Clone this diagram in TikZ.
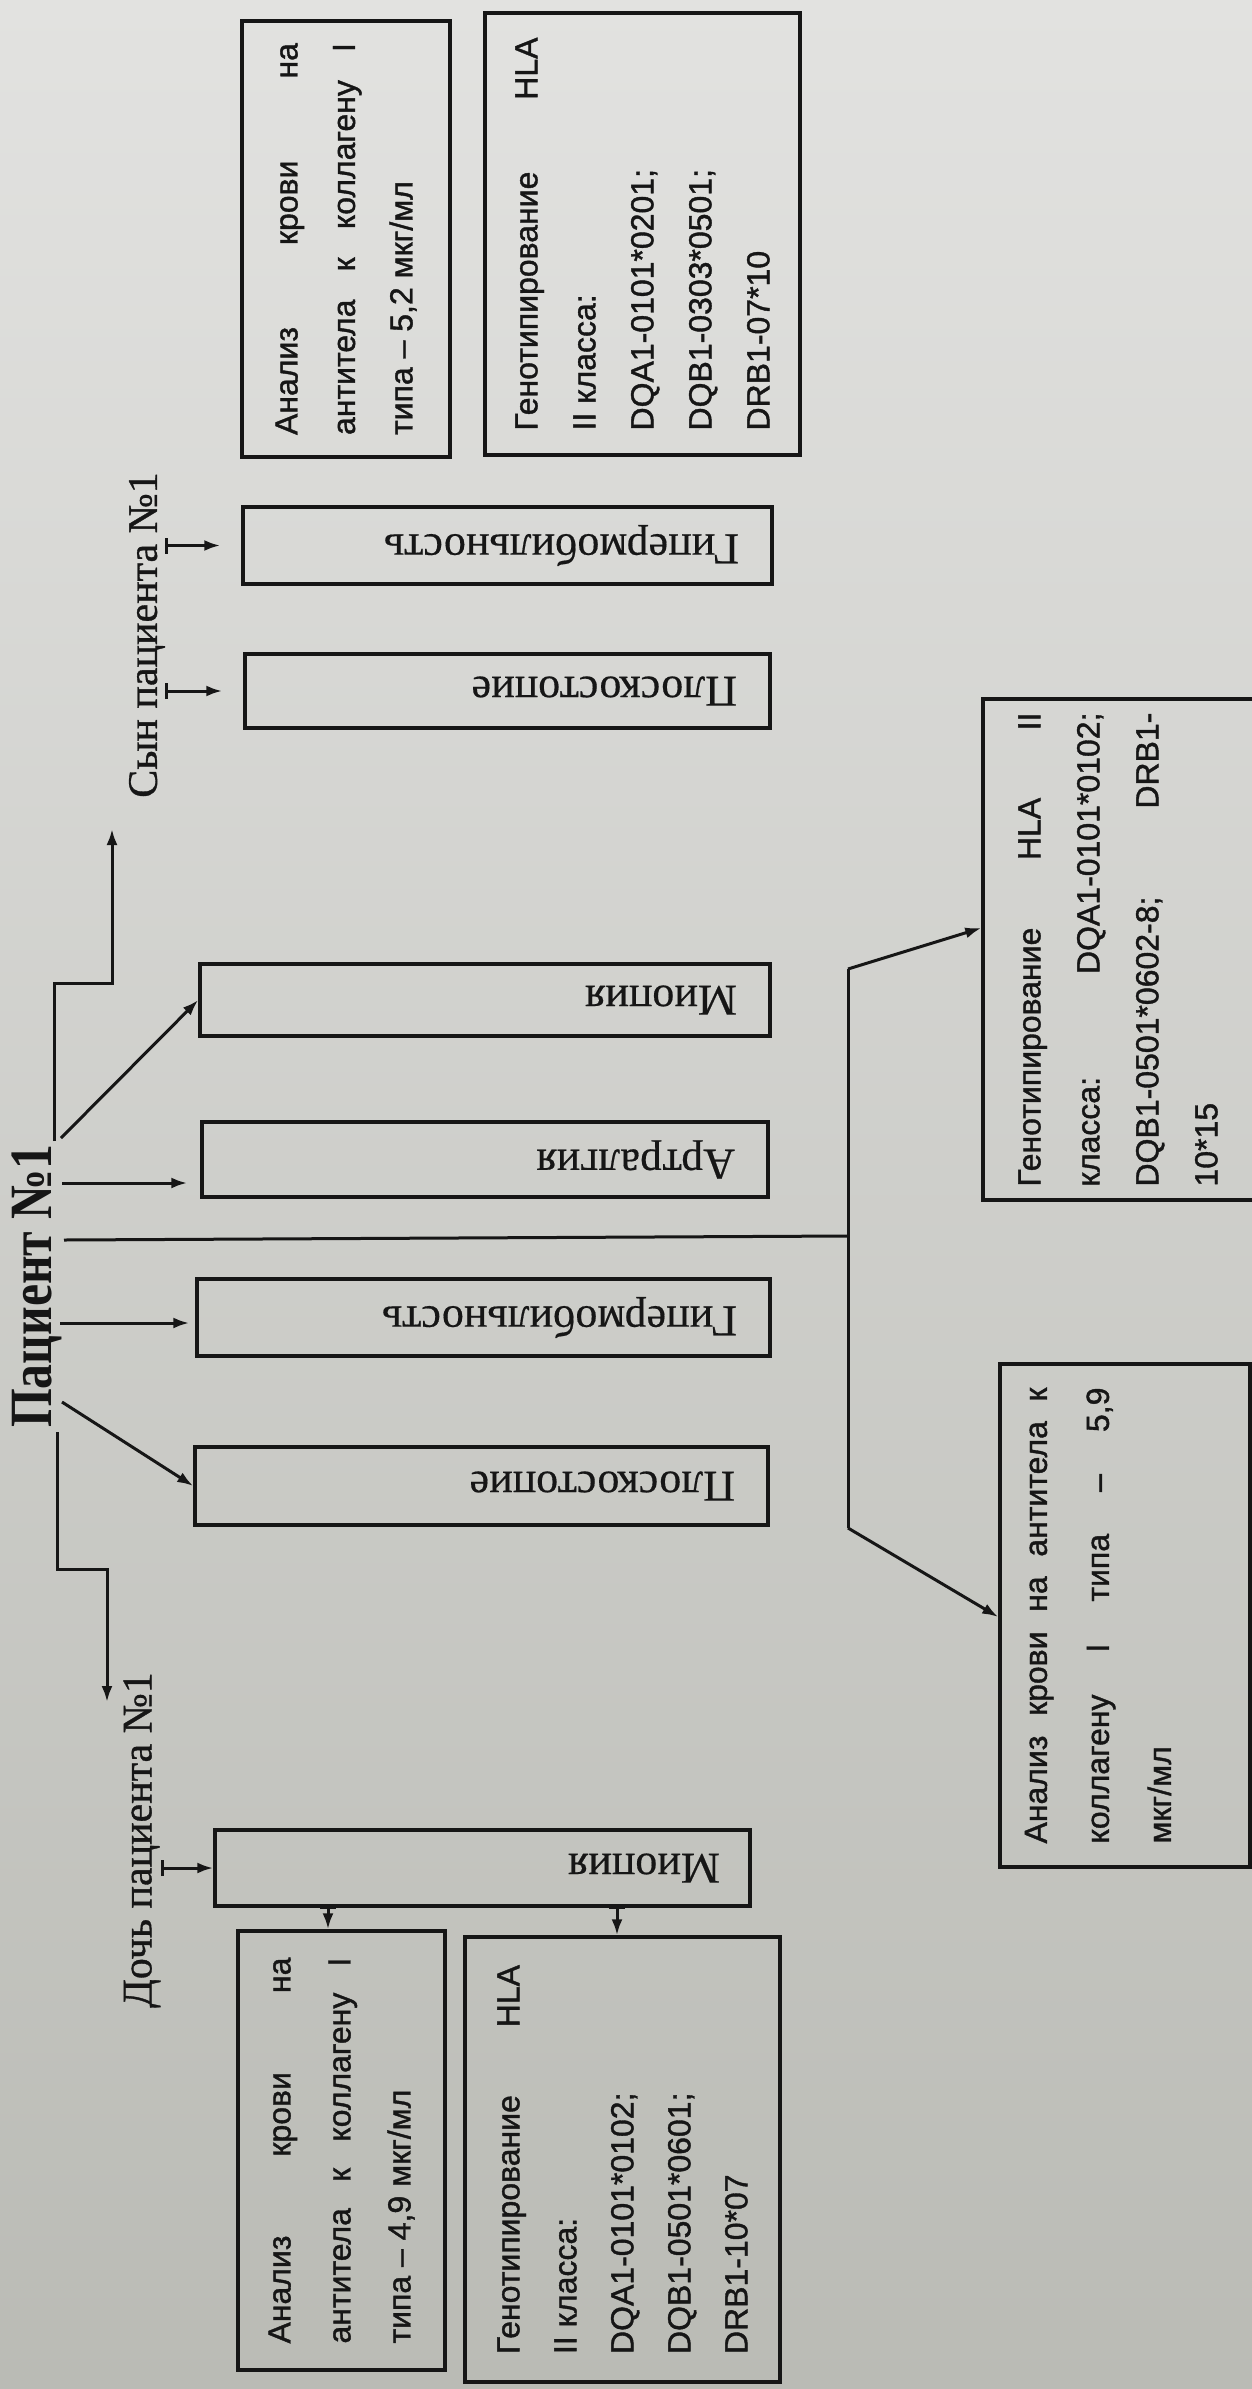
\documentclass[tikz,border=0pt]{standalone}
\usepackage{fontspec}
\usepackage{graphicx}
\setmainfont{Liberation Serif}
\newfontfamily\boxfont[FakeBold=1.2]{Liberation Sans}
\newfontfamily\labfont[FakeBold=0.8]{Liberation Serif}
\newfontfamily\symfont[FakeBold=0.4]{Liberation Serif}
\newfontfamily\titlefont[FakeStretch=0.83]{Liberation Serif}
\usetikzlibrary{arrows.meta,calc}
\definecolor{ink}{RGB}{22,22,22}
\newcommand\JL[1]{\makebox[\linewidth][s]{#1}}
\newcommand\rtext[3]{\rotatebox{90}{\parbox{#1}{\boxfont\fontsize{32}{#2}\selectfont #3}}}
\newcommand\symtext[3]{\makebox[#1][r]{\rotatebox{180}{#3}\hspace*{#2}}}
\begin{document}
\begin{tikzpicture}[x=1pt,y=-1pt,
  box/.style={draw=ink, line width=3.5pt, inner sep=0pt, rectangle},
  sym/.style={box, text=ink, font=\symfont\fontsize{44}{44}\selectfont},
  conn/.style={draw=ink, line width=3pt},
  arr/.style={conn, -{Latex[length=16pt,width=11pt]}},
  barr/.style={conn, {Bar[width=16pt]}-{Latex[length=16pt,width=11pt]}},
  lab/.style={rotate=90, inner sep=0pt, text=ink, font=\labfont\fontsize{42}{42}\selectfont}]
\shade[top color={rgb,255:red,226;green,226;blue,224}, bottom color={rgb,255:red,186;green,187;blue,181}] (0,0) rectangle (1252,2389);
\useasboundingbox (0,0) rectangle (1252,2389);

% labels
\node[rotate=90, inner sep=0pt, text=ink, font=\titlefont\bfseries\fontsize{60}{60}\selectfont] (title) at (37,1286) {Пациент №1};
\node[lab] (sonlab) at (147,635) {Сын пациента №1};
\node[lab] (dlab) at (142,1840) {Дочь пациента №1};

% son boxes
\node[box, text=ink, minimum width=208pt, minimum height=436pt] (a52) at (346,239)
  {\rtext{392pt}{57.5}{\JL{Анализ крови на}\\\JL{антитела к коллагену I}\\типа – 5,2 мкг/мл}};
\node[box, text=ink, minimum width=315pt, minimum height=442pt] (hs) at (642.5,234)
  {\rtext{393pt}{58}{\JL{Генотипирование HLA}\\II класса:\\DQA1-0101*0201;\\DQB1-0303*0501;\\DRB1-07*10}};
\node[sym, minimum width=529pt, minimum height=77pt] (gs) at (507.5,545.5) {\symtext{529pt}{33pt}{Гипермобильность}};
\node[sym, minimum width=525pt, minimum height=74pt] (ps) at (507.5,691) {\symtext{525pt}{33pt}{Плоскостопие}};

% patient symptom boxes
\node[sym, minimum width=570pt, minimum height=72pt] (mio) at (485,1000) {\symtext{570pt}{33pt}{Миопия}};
\node[sym, minimum width=566pt, minimum height=75pt] (art) at (485,1159.5) {\symtext{566pt}{33pt}{Артралгия}};
\node[sym, minimum width=573pt, minimum height=77pt] (gp) at (483.5,1317.5) {\symtext{573pt}{33pt}{Гипермобильность}};
\node[sym, minimum width=573pt, minimum height=78pt] (pp) at (481.5,1486) {\symtext{573pt}{33pt}{Плоскостопие}};

% patient analysis boxes
\node[box, text=ink, minimum width=292pt, minimum height=501pt] (hp) at (1129,949.5)
  {\rtext{474pt}{59}{\JL{Генотипирование HLA II}\\\JL{класса: DQA1-0101*0102;}\\\JL{DQB1-0501*0602-8; DRB1-}\\10*15}\hspace*{22pt}};
\node[box, text=ink, minimum width=250pt, minimum height=503pt] (a59) at (1125,1615.5)
  {\rtext{456pt}{62}{\JL{Анализ крови на антитела к}\\\JL{коллагену I типа – 5,9}\\мкг/мл}\hspace*{54pt}};

% daughter boxes
\node[sym, minimum width=535pt, minimum height=76pt] (md) at (482.5,1868) {\symtext{535pt}{30pt}{Миопия}};
\node[box, text=ink, minimum width=207pt, minimum height=439pt] (a49) at (341.5,2150.5)
  {\rtext{386pt}{60}{\JL{Анализ крови на}\\\JL{антитела к коллагену I}\\типа – 4,9 мкг/мл}};
\node[box, text=ink, minimum width=315pt, minimum height=445pt] (hd) at (622.5,2159.5)
  {\rtext{389pt}{57}{\JL{Генотипирование HLA}\\II класса:\\DQA1-0101*0102;\\DQB1-0501*0601;\\DRB1-10*07}};

% connector points
\coordinate (sA) at (54,1141);
\coordinate (sB) at (112,983);
\coordinate (sT) at (112,829);
\coordinate (mA) at (61,1138);
\coordinate (aA) at (62,1183);
\coordinate (hA) at (64,1240);
\coordinate (hub) at (848,1236);
\coordinate (hubT) at (848,969);
\coordinate (hubB) at (848,1528);
\coordinate (hpY) at (0,928);
\coordinate (a59Y) at (0,1617);
\coordinate (gA) at (60,1323);
\coordinate (pA) at (62,1402);
\coordinate (dA) at (57,1432);
\coordinate (dB) at (107,1569);
\coordinate (dT) at (107,1702);
\coordinate (d1) at (328,1906);
\coordinate (d2) at (617,1906);

% title connectors
\draw[arr] (sA) |- (sB) -- (sT);
\draw[arr] (mA) -- (mio.west);
\draw[arr, shorten >=13pt] (aA) -- (art.west |- aA);
\draw[conn] (hA) -- (hub);
\draw[conn] (hubT) -- (hubB);
\draw[arr] (hubT) -- (hp.west |- hpY);
\draw[arr] (hubB) -- (a59.west |- a59Y);
\draw[arr, shorten >=6pt] (gA) -- (gp.west |- gA);
\draw[arr] (pA) -- (pp.west);
\draw[arr] (dA) |- (dB) -- (dT);

% son label arrows
\draw[barr, shorten >=21pt] (sonlab.south |- gs.west) -- (gs.west);
\draw[barr, shorten >=21pt] (sonlab.south |- ps.west) -- (ps.west);

% daughter arrows
\draw[barr] (dlab.south |- md.west) -- (md.west);
\draw[barr] (d1) -- (d1 |- a49.north);
\draw[barr] (d2) -- (d2 |- hd.north);
\end{tikzpicture}
\end{document}
